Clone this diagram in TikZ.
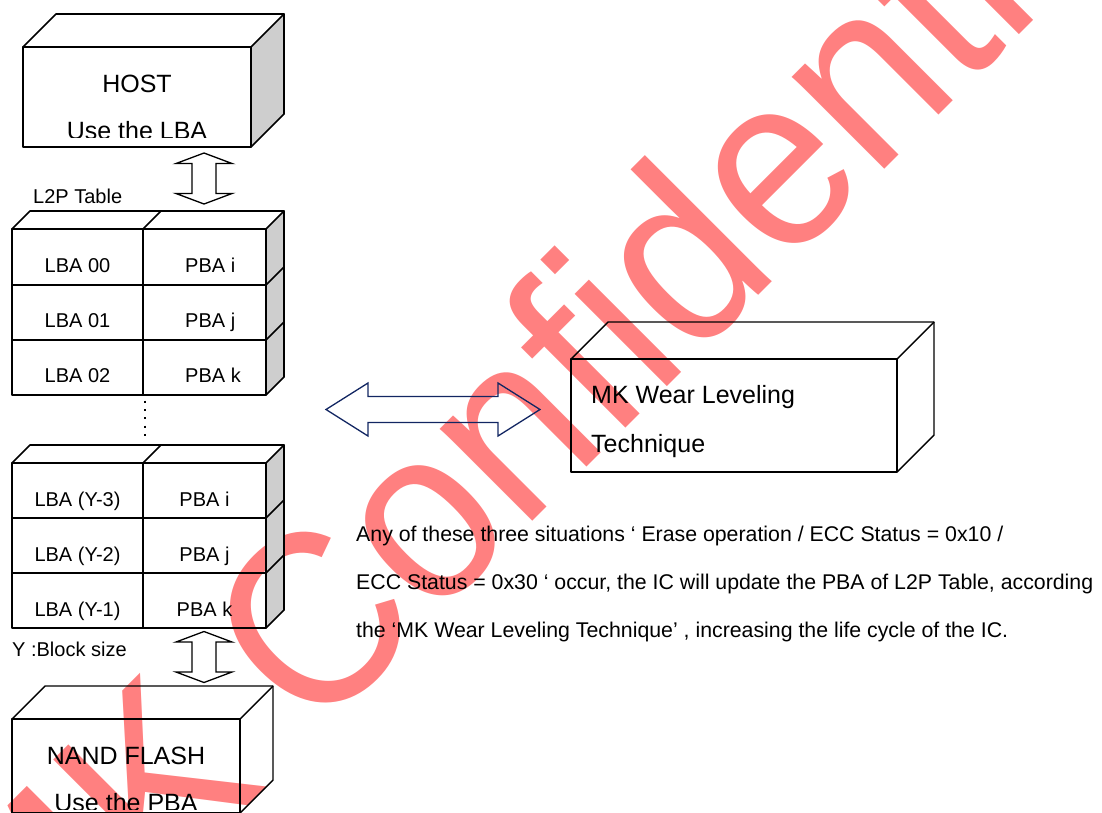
\documentclass[tikz,border=0pt]{standalone}
\usepackage{graphicx}
\usepackage{fontspec}
\setmainfont{Liberation Sans}
\usetikzlibrary{calc}

\definecolor{markred}{RGB}{255,128,128}
\definecolor{sidegray}{RGB}{206,206,206}
\definecolor{arrownavy}{RGB}{18,38,98}

\tikzset{
  boxedge/.style={draw=black, line width=1.7pt, line join=round},
  thinedge/.style={draw=black, line width=1.4pt, line join=round},
  sideface/.style={boxedge, fill=sidegray},
  celltext/.style={inner sep=0pt, font=\fontsize{20}{24}\selectfont},
  boxtitle/.style={inner sep=0pt, anchor=base, font=\fontsize{25}{30}\selectfont},
  remarktext/.style={inner sep=0pt, anchor=base west, font=\fontsize{21.3}{25}\selectfont},
  blockarrow/.style={draw=black, line width=1.3pt, line join=miter},
}

\begin{document}
\begin{tikzpicture}[x=1pt, y=-1pt]
    \useasboundingbox (0,0) rectangle (1102,812);
    \clip (0,0) rectangle (1102,812);

    % watermark
    \node[rotate=45, anchor=base west, inner sep=0pt, text=markred,
      font=\fontsize{247}{250}\selectfont] (mark) at (25,1029)
      {\scalebox{0.93}[1]{MK Confidential}};

    % host
    \coordinate (H) at (23,47);
    \draw[sideface] (251,47) -- ++(33,-33) -- ++(0,100) -- ++(-33,33) -- cycle;
    \draw[boxedge] (H) rectangle (251,147);
    \draw[boxedge] (H) -- ++(33,-33) -- (284,14);
    \node[boxtitle] (host) at (137,92) {HOST};
    \begin{scope}
      \clip (H) rectangle (251,137);
      \node[boxtitle] (hostlba) at (137,139) {Use the LBA};
    \end{scope}

    % first part of the table
    \node[celltext, anchor=base west] (l2p) at (33,203) {L2P Table};
    \draw[sideface] (266,229) -- ++(18,-18) -- ++(0,166) -- ++(-18,18) -- cycle;
    \draw[boxedge] (12,229) -- ++(18,-18) -- (284,211);
    \draw[boxedge] (143,229) -- ++(18,-18);
    \draw[boxedge] (12,229) rectangle (266,395);
    \draw[boxedge] (143,229) -- (143,395);
    \foreach \y in {285,340} {
      \draw[boxedge] (12,\y) -- (266,\y) -- ++(18,-18);
    }
    \foreach \l/\p [count=\r] in {LBA 00/PBA i, LBA 01/PBA j, LBA 02/PBA k} {
      \node[celltext, anchor=base] (lbaA\r) at (77.5,217+55.33*\r) {\l};
      \node[celltext, anchor=base west] (pbaA\r) at (185,217+55.33*\r) {\p};
    }
    \draw[line width=2pt, dash pattern=on 2pt off 6.3pt] (145,400.7) -- (145,438);

    % last part of the table
    \draw[sideface] (266,463) -- ++(18,-18) -- ++(0,165) -- ++(-18,18) -- cycle;
    \draw[boxedge] (12,463) -- ++(18,-18) -- (284,445);
    \draw[boxedge] (143,463) -- ++(18,-18);
    \draw[boxedge] (12,463) rectangle (266,628);
    \draw[boxedge] (143,463) -- (143,628);
    \foreach \y in {518,573} {
      \draw[boxedge] (12,\y) -- (266,\y) -- ++(18,-18);
    }
    \foreach \l/\p [count=\r] in {LBA (Y-3)/PBA i, LBA (Y-2)/PBA j, LBA (Y-1)/PBA k} {
      \node[celltext, anchor=base] (lbaB\r) at (77.5,451+55*\r) {\l};
      \node[celltext, anchor=base] (pbaB\r) at (204.5,451+55*\r) {\p};
    }
    \node[celltext, anchor=base west] (ysize) at (12,656) {Y :Block size};

    % nand flash
    \draw[thinedge] (12,719) rectangle (240,813);
    \draw[thinedge] (12,719) -- ++(33,-33) -- (273,686) -- ++(0,94) -- (240,813);
    \draw[thinedge] (240,719) -- (273,686);
    \node[boxtitle] (nand) at (126,764) {NAND FLASH};
    \begin{scope}
      \clip (12,719) rectangle (240,809);
      \node[boxtitle] (nandpba) at (126,811) {Use the PBA};
    \end{scope}

    % wear leveling
    \draw[thinedge] (571,359) rectangle (897,472);
    \draw[thinedge] (571,359) -- ++(37,-37) -- (934,322) -- (934,435) -- (897,472);
    \draw[thinedge] (897,359) -- (934,322);
    \node[boxtitle, anchor=base west] (wear) at (591,403) {MK Wear Leveling};
    \node[boxtitle, anchor=base west] (tech) at (591,452) {Technique};

    % block arrows
    \coordinate (upperArrow) at (204,178.5);
    \coordinate (lowerArrow) at (204,657);
    \coordinate (wearArrow) at (433,409.5);
    \foreach \c in {upperArrow,lowerArrow} {
      \begin{scope}[shift={(\c)}]
        \draw[blockarrow] (0,-25.5) -- (28,-15) -- (12,-15) -- (12,15) -- (28,15) -- (0,25.5)
          -- (-28,15) -- (-12,15) -- (-12,-15) -- (-28,-15) -- cycle;
      \end{scope}
    }
    \begin{scope}[shift={(wearArrow)}]
      \draw[blockarrow, draw=arrownavy] (-107,0) -- (-65,-26.5) -- (-65,-13) -- (65,-13)
        -- (65,-26.5) -- (107,0) -- (65,26.5) -- (65,13) -- (-65,13) -- (-65,26.5) -- cycle;
    \end{scope}

    % remark
    \node[remarktext] (line1) at (356,541.5) {Any of these three situations ‘ Erase operation / ECC Status = 0x10 /};
    \node[remarktext] (line2) at (356,589.5) {ECC Status = 0x30 ‘ occur, the IC will update the PBA of L2P Table, according};
    \node[remarktext] (line3) at (356,637.5) {the ‘MK Wear Leveling Technique’ , increasing the life cycle of the IC.};

\end{tikzpicture}
\end{document}
